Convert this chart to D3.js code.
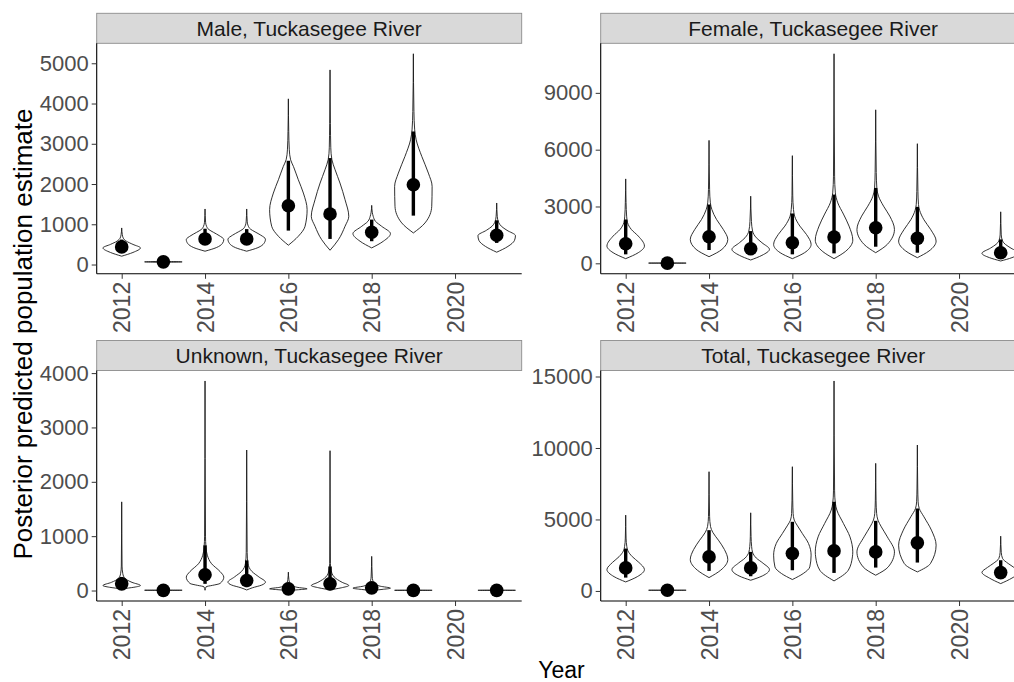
<!DOCTYPE html>
<html>
<head>
<meta charset="utf-8">
<script src="https://cdn.jsdelivr.net/npm/d3@7"></script>
<style>
  html, body { margin: 0; padding: 0; background: #fff; }
  svg { display: block; font-family: "Liberation Sans", Arial, sans-serif; }
</style>
</head>
<body>
<svg id="chart" width="1014" height="682"></svg>
<script>
// Survey years and axis ticks
const years = [2012, 2013, 2014, 2015, 2016, 2017, 2018, 2019, 2021];
const yearTicks = [2012, 2014, 2016, 2018, 2020];

const panelTitles = ["Male, Tuckasegee River", "Female, Tuckasegee River",
                     "Unknown, Tuckasegee River", "Total, Tuckasegee River"];

// Posterior medians and interval bounds, by year
const maleMedian = [438, 66, 636, 636, 1462, 1256, 802, 1983, 727];
const maleLow    = [300, 55, 490, 490, 843, 636, 579, 1215, 537];
const maleHigh   = [620, 78, 890, 880, 2578, 2645, 1116, 3306, 1099];

const femaleMedian = [1035, 10, 1403, 772, 1088, 1386, 1877, 1316, 561];
const femaleLow    = [474, 2, 702, 474, 474, 526, 877, 561, 298];
const femaleHigh   = [2316, 25, 3105, 1702, 2632, 3631, 3982, 2982, 1263];

const unknownMedian = [123, 2, 289, 185, 31, 123, 49, 2, 2];
const unknownLow    = [60, 1, 123, 62, 10, 49, 15, 1, 1];
const unknownHigh   = [250, 5, 831, 554, 70, 443, 110, 5, 5];

const totalMedian = [1612, 50, 2383, 1612, 2616, 2803, 2733, 3364, 1285];
const totalLow    = [934, 40, 1402, 1028, 1448, 1261, 1635, 1986, 864];
const totalHigh   = [2967, 60, 4252, 2733, 4836, 6237, 4906, 5770, 2149];

// Posterior density outlines: [estimate, relative half-width]
const maleDensity = [
  [[207,0],[300,0.6],[413,1],[500,0.6],[580,0.25],[660,0.08],[750,0.03],[909,0]],
  [[30,0],[55,0.3],[66,1],[78,0.3],[110,0]],
  [[331,0],[420,0.6],[520,0.92],[620,1],[720,0.75],[800,0.45],[870,0.2],[950,0.08],[1050,0.03],[1380,0]],
  [[331,0],[420,0.6],[525,0.92],[630,1],[730,0.75],[810,0.45],[880,0.2],[960,0.08],[1060,0.03],[1380,0]],
  [[480,0],[702,0.53],[950,0.89],[1363,1],[1776,0.8],[2107,0.53],[2437,0.27],[2602,0.12],[2850,0.05],[3300,0.02],[4116,0]],
  [[355,0],[620,0.45],[950,0.8],[1198,1],[1611,0.8],[2025,0.53],[2354,0.27],[2602,0.1],[2900,0.04],[3500,0.02],[4835,0]],
  [[413,0],[578,0.62],[768,1],[950,0.53],[1074,0.2],[1198,0.08],[1300,0.03],[1470,0]],
  [[785,0],[1033,0.62],[1446,0.98],[1941,1],[2272,0.8],[2684,0.45],[3098,0.15],[3346,0.07],[3800,0.03],[5236,0]],
  [[306,0],[450,0.6],[600,0.95],[719,1],[850,0.55],[950,0.25],[1050,0.1],[1200,0.03],[1529,0]]
];
const femaleDensity = [
  [[246,0],[561,0.67],[912,1],[1439,0.67],[1789,0.3],[2140,0.1],[2491,0.05],[3200,0.02],[4456,0]],
  [[0,0],[5,0.4],[12,1],[20,0.4],[40,0]],
  [[351,0],[737,0.69],[1263,1],[1789,0.76],[2316,0.4],[2842,0.15],[3193,0.07],[3900,0.03],[6491,0]],
  [[175,0],[421,0.6],[737,1],[1088,0.6],[1351,0.3],[1702,0.1],[2200,0.04],[3544,0]],
  [[246,0],[561,0.65],[1000,1],[1526,0.75],[1965,0.4],[2491,0.12],[2842,0.06],[3600,0.02],[5684,0]],
  [[246,0],[620,0.6],[1228,1],[1965,0.8],[2600,0.5],[3193,0.2],[3719,0.07],[4600,0.03],[11063,0]],
  [[561,0],[1000,0.62],[1789,1],[2491,0.75],[3017,0.42],[3544,0.15],[3982,0.06],[4800,0.03],[8105,0]],
  [[298,0],[650,0.62],[1175,1],[1800,0.7],[2300,0.35],[2800,0.12],[3100,0.06],[3800,0.03],[6316,0]],
  [[123,0],[300,0.6],[526,1],[800,0.55],[1000,0.25],[1175,0.1],[1500,0.03],[2719,0]]
];
const unknownDensity = [
  [[31,0],[60,0.65],[92,1],[150,0.55],[220,0.18],[308,0.06],[450,0.02],[1631,0]],
  [[0,0],[2,0.4],[5,1],[8,0.4],[15,0]],
  [[5,0],[70,0.06],[95,0.4],[130,0.8],[246,1],[350,0.8],[492,0.35],[650,0.12],[800,0.05],[1000,0.025],[3855,0]],
  [[10,0],[50,0.3],[100,0.8],[154,1],[250,0.65],[350,0.28],[492,0.07],[700,0.025],[2585,0]],
  [[0,0],[15,0.55],[31,1],[60,0.45],[110,0.12],[200,0.03],[338,0]],
  [[12,0],[50,0.6],[92,1],[150,0.65],[250,0.22],[369,0.06],[500,0.02],[2572,0]],
  [[0,0],[20,0.55],[43,1],[80,0.45],[130,0.12],[250,0.03],[628,0]],
  [[0,0],[2,0.4],[4,1],[7,0.4],[12,0]],
  [[0,0],[2,0.4],[4,1],[7,0.4],[12,0]]
];
const totalDensity = [
  [[631,0],[1000,0.62],[1495,1],[2000,0.7],[2400,0.35],[2800,0.12],[3100,0.06],[3700,0.02],[5303,0]],
  [[30,0],[40,0.4],[50,1],[60,0.4],[90,0]],
  [[934,0],[1450,0.62],[2196,1],[2900,0.82],[3551,0.5],[4100,0.2],[4500,0.08],[5200,0.03],[8340,0]],
  [[748,0],[1050,0.62],[1495,1],[1950,0.65],[2300,0.3],[2700,0.1],[3100,0.05],[3800,0.02],[5466,0]],
  [[799,0],[1219,0.58],[1682,0.93],[2502,1],[3321,0.86],[4022,0.53],[4604,0.25],[4955,0.1],[5424,0.04],[6300,0.02],[8690,0]],
  [[701,0],[1451,0.76],[2383,0.98],[2733,1],[3784,0.85],[4723,0.5],[5655,0.15],[6125,0.07],[7000,0.03],[14687,0]],
  [[1100,0],[1682,0.67],[2733,1],[3784,0.62],[4485,0.3],[4955,0.12],[5424,0.05],[6300,0.02],[8924,0]],
  [[1332,0],[1920,0.7],[3202,1],[4253,0.75],[5186,0.35],[5770,0.1],[6237,0.04],[7200,0.02],[10208,0]],
  [[514,0],[900,0.6],[1300,1],[1650,0.7],[1920,0.4],[2270,0.1],[2700,0.03],[3831,0]]
];

// Y tick values per panel
const maleTicks = [0, 1000, 2000, 3000, 4000, 5000];
const femaleTicks = [0, 3000, 6000, 9000];
const unknownTicks = [0, 1000, 2000, 3000, 4000];
const totalTicks = [0, 5000, 10000, 15000];

const panels = [
  { title: panelTitles[0], median: maleMedian, low: maleLow, high: maleHigh, density: maleDensity, ticks: maleTicks, col: 0, row: 0 },
  { title: panelTitles[1], median: femaleMedian, low: femaleLow, high: femaleHigh, density: femaleDensity, ticks: femaleTicks, col: 1, row: 0 },
  { title: panelTitles[2], median: unknownMedian, low: unknownLow, high: unknownHigh, density: unknownDensity, ticks: unknownTicks, col: 0, row: 1 },
  { title: panelTitles[3], median: totalMedian, low: totalLow, high: totalHigh, density: totalDensity, ticks: totalTicks, col: 1, row: 1 }
];

// Facet geometry
const colX = [96.7, 600.7];
const panelW = 425;
const rowStripTop = [13.3, 340.5];
const stripH = 30;
const plotH = 230.5;

const svg = d3.select("#chart");

svg.append("text")
  .attr("transform", "translate(31.5,334) rotate(-90)")
  .attr("text-anchor", "middle")
  .attr("font-size", "26px")
  .attr("fill", "#000")
  .text("Posterior predicted population estimate");

svg.append("text")
  .attr("x", 561.5).attr("y", 678)
  .attr("text-anchor", "middle")
  .attr("font-size", "23px")
  .attr("fill", "#000")
  .text("Year");

panels.forEach(p => {
  const x0 = colX[p.col];
  const stripTop = rowStripTop[p.row];
  const top = stripTop + stripH;
  const bottom = top + plotH;

  const x = d3.scaleLinear().domain([2011.4, 2021.6]).range([x0, x0 + panelW]);

  const allVals = p.density.flat().map(d => d[0]);
  const lo = d3.min(allVals), hi = d3.max(allVals);
  const pad = (hi - lo) * 0.05;
  const y = d3.scaleLinear().domain([lo - pad, hi + pad]).range([bottom, top]);

  const g = svg.append("g");

  // strip
  g.append("rect")
    .attr("x", x0).attr("y", stripTop)
    .attr("width", panelW).attr("height", stripH)
    .attr("fill", "#d9d9d9").attr("stroke", "#8c8c8c").attr("stroke-width", 0.9);
  g.append("text")
    .attr("x", x0 + panelW / 2).attr("y", stripTop + stripH / 2)
    .attr("dy", "0.36em")
    .attr("text-anchor", "middle")
    .attr("font-size", "21px")
    .attr("fill", "#1a1a1a")
    .text(p.title);

  // violins
  const halfW = x(2012.45) - x(2012);
  years.forEach((yr, i) => {
    const cx = x(yr);
    const area = d3.area()
      .curve(d3.curveMonotoneY)
      .y(d => y(d[0]))
      .x0(d => cx - d[1] * halfW)
      .x1(d => cx + d[1] * halfW);
    g.append("path")
      .attr("d", area(p.density[i]))
      .attr("fill", "none")
      .attr("stroke", "#1a1a1a")
      .attr("stroke-width", 0.9);
  });

  // intervals and medians
  years.forEach((yr, i) => {
    g.append("line")
      .attr("x1", x(yr)).attr("x2", x(yr))
      .attr("y1", y(p.low[i])).attr("y2", y(p.high[i]))
      .attr("stroke", "#000").attr("stroke-width", 3.4);
  });
  years.forEach((yr, i) => {
    g.append("circle")
      .attr("cx", x(yr)).attr("cy", y(p.median[i]))
      .attr("r", 6.8).attr("fill", "#000");
  });

  // y axis
  const yAxis = d3.axisLeft(y).tickValues(p.ticks).tickSize(5).tickPadding(3).tickFormat(d3.format("d"));
  const ya = g.append("g").attr("transform", `translate(${x0},0)`).call(yAxis);
  ya.select(".domain").attr("stroke", "#000").attr("stroke-width", 1.1)
    .attr("d", `M0,${top}V${bottom}`);
  ya.selectAll(".tick line").attr("stroke", "#333").attr("stroke-width", 1);
  ya.selectAll(".tick text").attr("font-size", "22px").attr("fill", "#4d4d4d")
    .attr("font-family", "'Liberation Sans', Arial, sans-serif");

  // x axis
  const xAxis = d3.axisBottom(x).tickValues(yearTicks).tickSize(5).tickFormat(d3.format("d"));
  const xa = g.append("g").attr("transform", `translate(0,${bottom})`).call(xAxis);
  xa.select(".domain").attr("stroke", "#000").attr("stroke-width", 1.1)
    .attr("d", `M${x0},0H${x0 + panelW}`);
  xa.selectAll(".tick line").attr("stroke", "#333").attr("stroke-width", 1);
  xa.selectAll(".tick text")
    .attr("font-size", "23px").attr("fill", "#4d4d4d")
    .attr("font-family", "'Liberation Sans', Arial, sans-serif")
    .attr("text-anchor", "end")
    .attr("transform", "rotate(-90)")
    .attr("x", -8).attr("y", 0).attr("dy", "0.36em");
});
</script>
</body>
</html>
